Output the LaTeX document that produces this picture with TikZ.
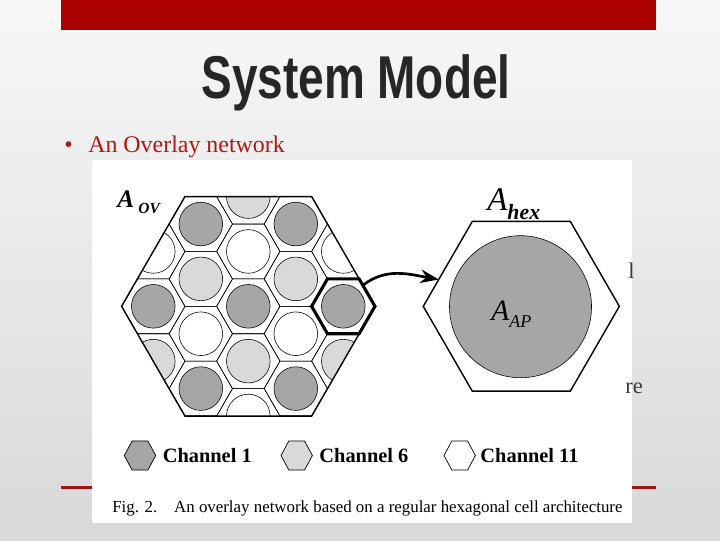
\documentclass[tikz,border=0pt]{standalone}
\usepackage{fontspec}
\setmainfont{Liberation Serif}
\newfontfamily\headfont{Liberation Sans}
\usetikzlibrary{positioning,shapes.geometric,arrows.meta}

\definecolor{barred}{HTML}{AA0000}
\definecolor{textred}{HTML}{B01818}
\definecolor{rulered}{HTML}{A01414}
\definecolor{titlegray}{HTML}{262626}
\definecolor{fraggray}{HTML}{3A3A3A}
\colorlet{ch0}{black!35}
\colorlet{ch1}{black!15}
\colorlet{ch2}{white}

\begin{document}
\begin{tikzpicture}[
  x=0.025cm, y=-0.025cm,
  hexcell/.style={draw, regular polygon, regular polygon sides=6, inner sep=0pt, outer sep=0pt, minimum size=1.583cm, line width=0.4pt},
  apdot/.style={draw, circle, inner sep=0pt, minimum size=1.09cm, line width=0.4pt},
  bighex/.style={hexcell, minimum size=6.335cm, line width=1pt},
  leghex/.style={hexcell, minimum size=0.785cm, line width=0.5pt, yscale=1.07},
  legtext/.style={inner sep=0pt, font=\fontsize{14.5}{16}\selectfont\bfseries},
  >=Stealth
]
\useasboundingbox (0,0) rectangle (720,540);
\fill[top color=black!3, bottom color=black!15] (0,0) rectangle (720,540);
\fill[barred] (61,0) rectangle (656,30);

\node[anchor=base, inner sep=0pt, text=titlegray] (title) at (356,98)
  {\headfont\bfseries\fontsize{43}{48}\selectfont\scalebox{0.76}[1]{System Model}};
\node[anchor=base west, inner sep=0pt, text=textred] (bul) at (64,152) {\fontsize{17}{20}\selectfont\textbullet};
\node[anchor=base west, inner sep=0pt, text=textred] (ovl) at (88,152) {\fontsize{17}{20}\selectfont An Overlay network};

\draw[rulered, line width=2.3pt] (61,487.3) -- (656,487.3);
\fill[white] (92,160) rectangle (632,523);

% overlay grid, three channels
\begin{scope}
\clip (248.3,306.3) +(0:126.7) -- +(60:126.7) -- +(120:126.7) -- +(180:126.7) -- +(240:126.7) -- +(300:126.7) -- cycle;
\foreach \q in {-3,...,3}
  \foreach \r in {-4,...,4} {
    \pgfmathsetmacro\cx{248.3+47.5*\q}
    \pgfmathsetmacro\cy{306.3+54.85*(\r+\q/2)}
    \pgfmathtruncatemacro\ch{Mod(\r+2*\q,3)}
    \node[hexcell] (cell\q\r) at (\cx,\cy) {};
    \node[apdot, fill=ch\ch] (dot\q\r) at (\cx,\cy) {};
  }
\end{scope}
\node[bighex] (ov) at (248.3,306.3) {};
\node[hexcell, line width=2.2pt] (hl) at (343.3,306.3) {};

% single cell
\node[hexcell, minimum size=4.9cm, line width=1pt] (hexR) at (521.3,306.3) {};
\node[apdot, fill=ch0, minimum size=3.55cm] (apR) at (520.5,306.7) {};

\draw[line width=1.9pt, -{Stealth[length=0.46cm, width=0.34cm]}] (hl.47) to[out=38, in=170] (hexR.162);

% labels
\node[anchor=base west, inner sep=0pt] (lov) at (117,207)
  {\fontsize{18}{20}\selectfont\bfseries\itshape A\,\raisebox{-0.25em}{\fontsize{11}{12}\selectfont OV}};
\node[anchor=base west, inner sep=0pt] (lhex) at (487,210)
  {\fontsize{23.5}{26}\selectfont\itshape A\raisebox{-0.3em}{\fontsize{15.5}{17}\selectfont\bfseries hex}};
\node[anchor=base west, inner sep=0pt] (lap) at (491,320)
  {\fontsize{21}{24}\selectfont\itshape A\raisebox{-0.27em}{\fontsize{12.8}{14}\selectfont AP}};

% legend
\node[leghex, fill=ch0] (lg1) at (140,455.5) {};
\node[legtext, right=0.17cm of lg1] (lt1) {Channel 1};
\node[leghex, fill=ch1] (lg2) at (296.7,455.5) {};
\node[legtext, right=0.17cm of lg2] (lt2) {Channel 6};
\node[leghex, fill=ch2] (lg3) at (459.7,455.5) {};
\node[legtext, right=0.12cm of lg3] (lt3) {Channel 11};

\node[anchor=base west, inner sep=0pt] (cap) at (112,512)
  {\fontsize{12}{14}\selectfont Fig. 2.\quad An overlay network based on a regular hexagonal cell architecture};

% text of the slide showing past the figure
\node[anchor=base west, inner sep=0pt, text=fraggray] (fr1) at (628,278) {\fontsize{16}{18}\selectfont l};
\node[anchor=base west, inner sep=0pt, text=fraggray] (fr2) at (625,393) {\fontsize{16}{18}\selectfont re};
\end{tikzpicture}
\end{document}
